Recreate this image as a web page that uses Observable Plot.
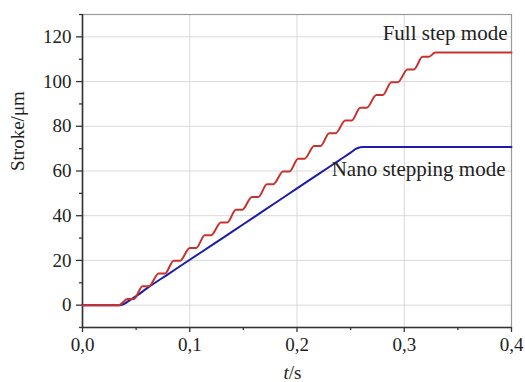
<!DOCTYPE html>
<html>
<head>
<meta charset="utf-8">
<script src="https://cdn.jsdelivr.net/npm/d3@7"></script>
<script src="https://cdn.jsdelivr.net/npm/@observablehq/plot@0.6"></script>
<style>
  html, body { margin: 0; padding: 0; background: #ffffff; }
  svg text { font-family: "Liberation Serif", serif !important; }
</style>
</head>
<body>
<div id="chart"></div>
<script>
// ---- data ----
const xDomain = [0, 0.4];
const yDomain = [-10, 130];
const xTicks = [0, 0.1, 0.2, 0.3, 0.4];
const xMinorTicks = [0.05, 0.15, 0.25, 0.35];
const yTicks = [0, 20, 40, 60, 80, 100, 120];
const yMinorTicks = [-10, 10, 30, 50, 70, 90, 110, 130];

// Full step mode (staircase: plateau start/end pairs)
const fullT = [0, 0.034, 0.042, 0.048, 0.056, 0.062, 0.071, 0.077, 0.085, 0.091,
  0.100, 0.106, 0.114, 0.120, 0.129, 0.135, 0.143, 0.149, 0.158, 0.164,
  0.172, 0.178, 0.187, 0.193, 0.201, 0.207, 0.216, 0.222, 0.230, 0.236,
  0.245, 0.251, 0.259, 0.265, 0.274, 0.280, 0.288, 0.294, 0.303, 0.309,
  0.317, 0.323, 0.329, 0.4];
const fullS = [0, 0, 2.8, 2.8, 8.5, 8.5, 14.2, 14.2, 19.9, 19.9,
  25.6, 25.6, 31.3, 31.3, 37.0, 37.0, 42.7, 42.7, 48.4, 48.4,
  54.1, 54.1, 59.8, 59.8, 65.5, 65.5, 71.2, 71.2, 76.9, 76.9,
  82.6, 82.6, 88.3, 88.3, 94.0, 94.0, 99.7, 99.7, 105.4, 105.4,
  111.1, 111.1, 113, 113];

// Nano stepping mode
const nanoT = [0, 0.035, 0.045, 0.05, 0.06, 0.08, 0.10, 0.12, 0.14, 0.16,
  0.18, 0.20, 0.22, 0.24, 0.25, 0.256, 0.262, 0.4];
const nanoS = [0, 0, 2.5, 4, 7.5, 13.9, 20.3, 26.6, 33.0, 39.4,
  45.8, 52.2, 58.6, 65.0, 68.2, 70.2, 70.7, 70.7];

const seriesNames = ["Full step mode", "Nano stepping mode"];
const seriesColors = ["#c8322d", "#1c1ca8"];
const yLabel = "Stroke/μm";

// ---- tables built from the arrays ----
const full = fullT.map((t, i) => ({t, s: fullS[i]}));
const nano = nanoT.map((t, i) => ({t, s: nanoS[i]}));
const fmt = v => d3.format(".1f")(v).replace(".", ",");

const serif = "Liberation Serif";

const chart = Plot.plot({
  width: 525,
  height: 382,
  marginLeft: 82,
  marginRight: 14,
  marginTop: 14,
  marginBottom: 55,
  style: {fontFamily: serif, fontSize: "19px", color: "#222", background: "#ffffff", overflow: "visible"},
  x: {domain: xDomain},
  y: {domain: yDomain},
  marks: [
    Plot.gridX(xTicks, {stroke: "#d9d9d9", strokeOpacity: 1, strokeWidth: 1}),
    Plot.gridY(yTicks, {stroke: "#d9d9d9", strokeOpacity: 1, strokeWidth: 1}),
    Plot.frame({stroke: "#9a9a9a", strokeWidth: 1.2}),
    Plot.ruleX([xDomain[0]], {stroke: "#333", strokeWidth: 1.6}),
    Plot.ruleY([yDomain[0]], {stroke: "#333", strokeWidth: 1.6}),
    Plot.axisY(yTicks, {tickSize: 6, tickPadding: 5, label: null, stroke: "#333", strokeWidth: 1.3, fontSize: 19, fontFamily: serif, fill: "#222"}),
    Plot.axisY(yMinorTicks, {tickSize: 3, tickFormat: () => "", label: null, stroke: "#333", strokeWidth: 1.3}),
    Plot.axisX(xTicks, {tickSize: 5, tickPadding: 5, tickFormat: fmt, label: null, stroke: "#333", strokeWidth: 1.3, fontSize: 19, fontFamily: serif, fill: "#222"}),
    Plot.axisX(xMinorTicks, {tickSize: 3, tickFormat: () => "", label: null, stroke: "#333", strokeWidth: 1.3}),
    Plot.line(nano, {x: "t", y: "s", stroke: seriesColors[1], strokeWidth: 2, curve: "monotone-x"}),
    Plot.line(full, {x: "t", y: "s", stroke: seriesColors[0], strokeWidth: 2, curve: "monotone-x"}),
    Plot.text([{t: fullT.at(-1), s: fullS.at(-1), label: seriesNames[0]}],
      {x: "t", y: "s", text: "label", textAnchor: "end", dx: -4, dy: -19, fontSize: 21, fontFamily: serif, fill: "#222"}),
    Plot.text([{t: nanoT.at(-1), s: nanoS.at(-1), label: seriesNames[1]}],
      {x: "t", y: "s", text: "label", textAnchor: "end", dx: -6, dy: 22, fontSize: 21, fontFamily: serif, fill: "#222"}),
    Plot.text([yLabel], {frameAnchor: "left", rotate: -90, dx: -65, fontSize: 19, fontFamily: serif, fill: "#222"})
  ]
});

// x-axis label with italic t
const xs = chart.scale("x");
const xMid = xs.apply((xDomain[0] + xDomain[1]) / 2);
const lab = d3.select(chart).append("text")
  .attr("x", xMid - 4)
  .attr("y", 379)
  .attr("text-anchor", "middle")
  .attr("font-family", serif)
  .attr("font-size", 19)
  .attr("fill", "#222");
lab.append("tspan").attr("font-style", "italic").text("t");
lab.append("tspan").text("/s");

document.getElementById("chart").appendChild(chart);
</script>
</body>
</html>
